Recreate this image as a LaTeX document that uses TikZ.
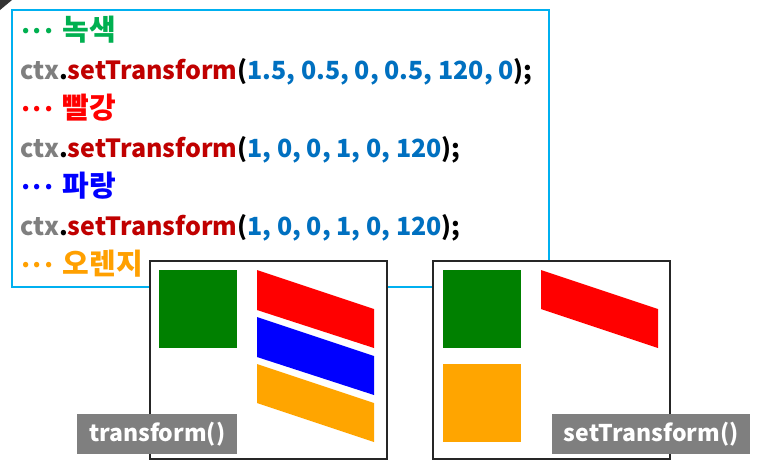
\documentclass[tikz,border=0pt]{standalone}
\usepackage{fontspec}
\setmainfont{Noto Sans CJK KR}
\definecolor{cyanline}{HTML}{00B0F0}
\definecolor{cmtgreen}{HTML}{00B050}
\definecolor{cmtred}{HTML}{FF0000}
\definecolor{cmtblue}{HTML}{0000FF}
\definecolor{cmtorange}{HTML}{FFA000}
\definecolor{ctxgray}{HTML}{7F7F7F}
\definecolor{fnred}{HTML}{C00000}
\definecolor{numblue}{HTML}{0070C0}
\definecolor{sqgreen}{HTML}{008000}
\definecolor{shorange}{HTML}{FFA500}
\definecolor{labelgray}{HTML}{7F7F7F}
\newcommand{\codeline}[1]{\textcolor{ctxgray}{ctx}\textcolor{black}{.}\textcolor{fnred}{setTransform}\textcolor{black}{(}\textcolor{numblue}{#1}\textcolor{black}{);}}
\newcommand{\cmtdots}{·\kern-3.5pt·\kern-3.5pt·\kern6pt}
\newcommand{\cmt}[1]{\cmtdots{\fontsize{29}{30}\selectfont #1}}
\tikzset{
  codetext/.style={anchor=base west, inner sep=0pt, font=\fontsize{25}{30}\selectfont\bfseries},
  framebox/.style={draw=black!85, line width=1.3pt, fill=white},
  labelbox/.style={fill=labelgray, text=white, inner sep=0pt, font=\fontsize{23}{28}\selectfont\bfseries}
}
\begin{document}
\begin{tikzpicture}[x=1pt,y=-1pt]
\useasboundingbox (0,0) rectangle (768,475);
\fill[white] (0,0) rectangle (768,475);
% corner mark
\fill[black!80] (0,0) -- (12,0) -- (0,10) -- cycle;
% code box
\node[draw=cyanline, line width=1.6pt, minimum width=537pt, minimum height=277pt, anchor=north west, inner sep=0pt] (codebox) at (11,9) {};
\node[codetext, text=cmtgreen] (l1) at (18,40) {\cmt{녹색}};
\node[codetext] (l2) at (20,79) {\codeline{1.5, 0.5, 0, 0.5, 120, 0}};
\node[codetext, text=cmtred] (l3) at (18,118) {\cmt{빨강}};
\node[codetext] (l4) at (20,157) {\codeline{1, 0, 0, 1, 0, 120}};
\node[codetext, text=cmtblue] (l5) at (18,196) {\cmt{파랑}};
\node[codetext] (l6) at (20,235) {\codeline{1, 0, 0, 1, 0, 120}};
\node[codetext, text=cmtorange] (l7) at (18,274) {\cmt{오렌지}};
% left frame
\draw[framebox] (150,261) rectangle (387,459);
\fill[sqgreen] (159,270) rectangle (237,348);
\fill[cmtred] (257,270) -- (374,309) -- (374,348) -- (257,310) -- cycle;
\fill[cmtblue] (257,317) -- (374,356) -- (374,395) -- (257,357) -- cycle;
\fill[shorange] (257,364) -- (374,403) -- (374,442) -- (257,403) -- cycle;
\node[labelbox, minimum width=160pt, minimum height=40pt, anchor=north west] (lab1) at (77,414) {transform()};
% right frame
\draw[framebox] (433,261) rectangle (670,459);
\fill[sqgreen] (443,270) rectangle (521,348);
\fill[cmtred] (541,270) -- (658,309) -- (658,348) -- (541,309) -- cycle;
\fill[shorange] (443,364) rectangle (521,442);
\node[labelbox, minimum width=198pt, minimum height=40pt, anchor=north west] (lab2) at (552,414) {setTransform()};
\end{tikzpicture}
\end{document}
